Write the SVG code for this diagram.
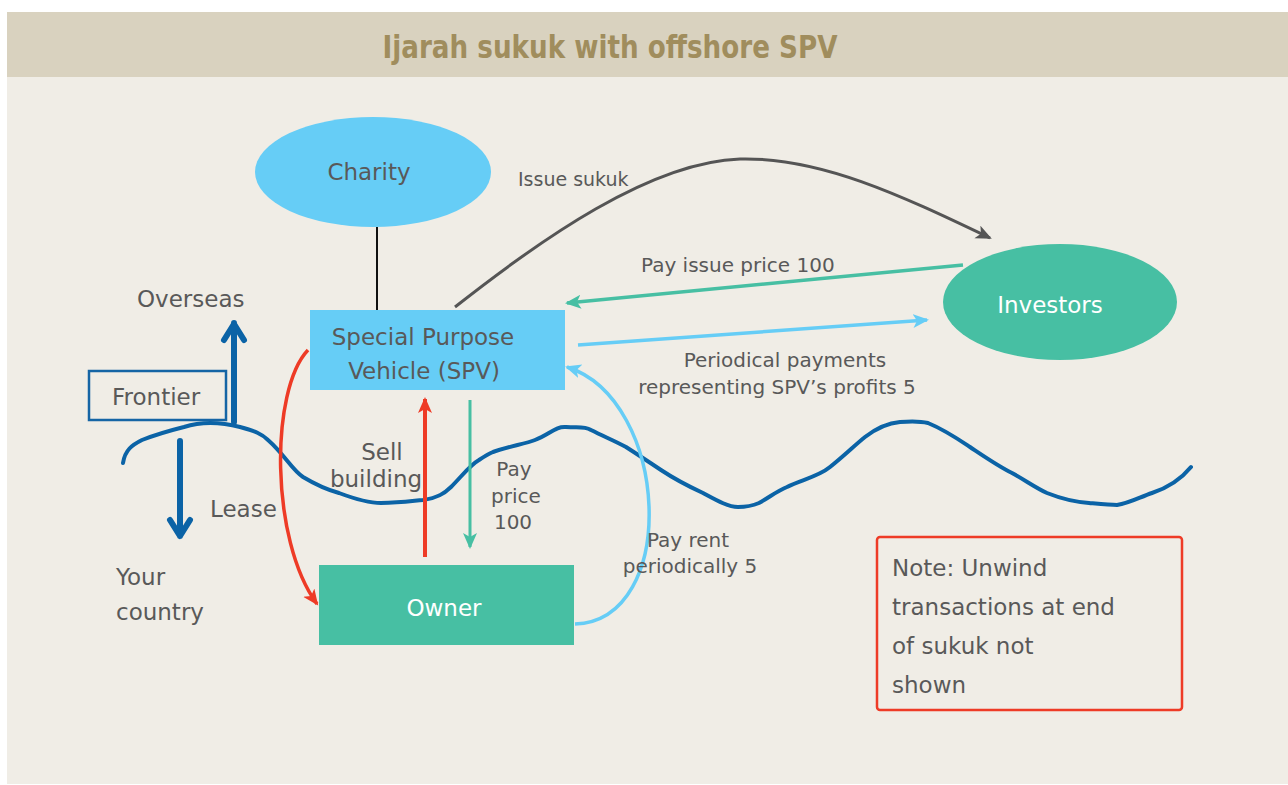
<svg xmlns="http://www.w3.org/2000/svg" width="1288" height="785" viewBox="0 0 1288 785">
  <style>
    .lbl { font-family: "DejaVu Sans", "Liberation Sans", sans-serif; fill: #595959; }
    .big { font-size: 23px; }
    .mid { font-size: 20px; }
    .wht { fill: #ffffff; }
    .ctr { text-anchor: middle; }
  </style>
  <defs>
    <marker id="headGray" markerUnits="userSpaceOnUse" markerWidth="20" markerHeight="16" refX="14" refY="7" orient="auto">
      <path d="M0,0 L16,7 L0,14 L4,7 Z" fill="#555555"/>
    </marker>
    <marker id="headTeal" markerUnits="userSpaceOnUse" markerWidth="20" markerHeight="16" refX="14" refY="7" orient="auto">
      <path d="M0,0 L16,7 L0,14 L4,7 Z" fill="#47bfa3"/>
    </marker>
    <marker id="headSky" markerUnits="userSpaceOnUse" markerWidth="20" markerHeight="16" refX="14" refY="7" orient="auto">
      <path d="M0,0 L16,7 L0,14 L4,7 Z" fill="#66cdf6"/>
    </marker>
    <marker id="headRed" markerUnits="userSpaceOnUse" markerWidth="20" markerHeight="16" refX="14" refY="7" orient="auto">
      <path d="M0,0 L16,7 L0,14 L4,7 Z" fill="#ee3b26"/>
    </marker>
  </defs>

  <!-- page -->
  <rect x="0" y="0" width="1288" height="785" fill="#ffffff"/>
  <rect x="7" y="12" width="1281" height="772" fill="#f0ede6"/>
  <rect x="7" y="12" width="1281" height="65" fill="#d9d2bf"/>
  <text x="610" y="58" text-anchor="middle" font-family="DejaVu Sans Condensed, DejaVu Sans, sans-serif" font-weight="bold" font-size="32" fill="#a08d5d" textLength="455" lengthAdjust="spacingAndGlyphs">Ijarah sukuk with offshore SPV</text>

  <!-- border line between countries -->
  <path id="frontier-line" d="M123,463 C125,450 132,445 142,440 C160,433 172,430 184,427 C200,422 220,422 240,427 C255,431 262,434 268,440 C285,455 292,470 303,477 C318,486 328,490 339,493 C355,499 368,503 381,503 C400,503 412,501 423,500 C438,498 445,493 451,487 C462,476 470,465 479,460 C485,456 488,454 493,452 C510,446 525,444 535,440 C550,434 556,426 566,427 C578,428 584,426 591,430 C605,437 615,441 626,447 C640,456 652,464 661,470 C676,480 690,487 703,493 C716,500 728,507 738,507 C748,507 752,506 759,503 C770,497 777,491 787,487 C800,480 818,477 830,467 C845,455 855,445 865,437 C878,427 888,423 900,422 C912,421 920,421 928,423 C945,430 958,439 970,447 C985,457 998,466 1012,473 C1025,480 1036,488 1047,493 C1062,499 1076,502 1089,503 C1100,504 1110,505 1117,505 C1130,503 1140,497 1152,493 C1170,487 1182,478 1191,467" fill="none" stroke="#0b63a6" stroke-width="4" stroke-linejoin="round" stroke-linecap="round"/>

  <!-- connectors -->
  <g id="connectors" fill="none">
    <line x1="377" y1="227" x2="377" y2="310" stroke="#111111" stroke-width="2"/>
    <path d="M455,307 C540,240 650,162 740,159 C820,157 900,195 990,238" stroke="#555555" stroke-width="3" marker-end="url(#headGray)"/>
    <line x1="963" y1="265" x2="567" y2="303" stroke="#47bfa3" stroke-width="3.5" marker-end="url(#headTeal)"/>
    <line x1="578" y1="345" x2="927" y2="320" stroke="#66cdf6" stroke-width="3.5" marker-end="url(#headSky)"/>
    <path d="M308,350 C270,390 270,540 317,604" stroke="#ee3b26" stroke-width="3.5" marker-end="url(#headRed)"/>
    <line x1="425" y1="557" x2="425" y2="399" stroke="#ee3b26" stroke-width="4" marker-end="url(#headRed)"/>
    <line x1="470" y1="400" x2="470" y2="547" stroke="#47bfa3" stroke-width="3" marker-end="url(#headTeal)"/>
    <path d="M575,624 C680,620 670,400 567,367" stroke="#66cdf6" stroke-width="3.5" marker-end="url(#headSky)"/>
    <!-- thick blue direction arrows -->
    <path d="M234,422 V323 M224,340 L234,324 L244,340" stroke="#0b63a6" stroke-width="6" stroke-linecap="round" stroke-linejoin="round"/>
    <path d="M180,441 V536 M170,520 L180,536 L190,520" stroke="#0b63a6" stroke-width="6" stroke-linecap="round" stroke-linejoin="round"/>
  </g>

  <!-- connector labels -->
  <g id="labels">
    <text class="lbl" font-size="19" x="518" y="186">Issue sukuk</text>
    <text class="lbl mid" x="641" y="272">Pay issue price 100</text>
    <text class="lbl mid ctr" x="785" y="367">Periodical payments</text>
    <text class="lbl mid ctr" x="777" y="394">representing SPV’s profits 5</text>
    <text class="lbl big ctr" x="382" y="460">Sell</text>
    <text class="lbl big ctr" x="376" y="487">building</text>
    <text class="lbl mid ctr" x="514" y="476">Pay</text>
    <text class="lbl mid ctr" x="516" y="503">price</text>
    <text class="lbl mid ctr" x="513" y="529">100</text>
    <text class="lbl mid ctr" x="688" y="547">Pay rent</text>
    <text class="lbl mid ctr" x="690" y="573">periodically 5</text>
    <text class="lbl big" x="137" y="307">Overseas</text>
    <text class="lbl big" x="210" y="517">Lease</text>
    <text class="lbl big" x="116" y="585">Your</text>
    <text class="lbl big" x="116" y="620">country</text>
  </g>

  <g id="charity">
    <ellipse cx="373" cy="172" rx="118" ry="55" fill="#66cdf6"/>
    <text class="lbl big ctr" x="369" y="180">Charity</text>
  </g>

  <g id="spv">
    <rect x="310" y="310" width="255" height="80" fill="#66cdf6"/>
    <text class="lbl big ctr" x="423" y="345">Special Purpose</text>
    <text class="lbl big ctr" x="424" y="379">Vehicle (SPV)</text>
  </g>

  <g id="investors">
    <ellipse cx="1060" cy="302" rx="117" ry="58" fill="#47bfa3"/>
    <text class="lbl big ctr wht" x="1050" y="313">Investors</text>
  </g>

  <g id="owner">
    <rect x="319" y="565" width="255" height="80" fill="#47bfa3"/>
    <text class="lbl big ctr wht" x="444" y="616">Owner</text>
  </g>

  <g id="frontier">
    <rect x="89" y="371" width="137" height="49" fill="none" stroke="#1565a5" stroke-width="2.5"/>
    <text class="lbl big" x="112" y="405">Frontier</text>
  </g>

  <g id="note">
    <rect x="877" y="537" width="305" height="173" rx="3" fill="none" stroke="#ee3b26" stroke-width="2.5"/>
    <text class="lbl big" x="892" y="576">Note: Unwind</text>
    <text class="lbl big" x="892" y="615">transactions at end</text>
    <text class="lbl big" x="892" y="654">of sukuk not</text>
    <text class="lbl big" x="892" y="693">shown</text>
  </g>
</svg>
